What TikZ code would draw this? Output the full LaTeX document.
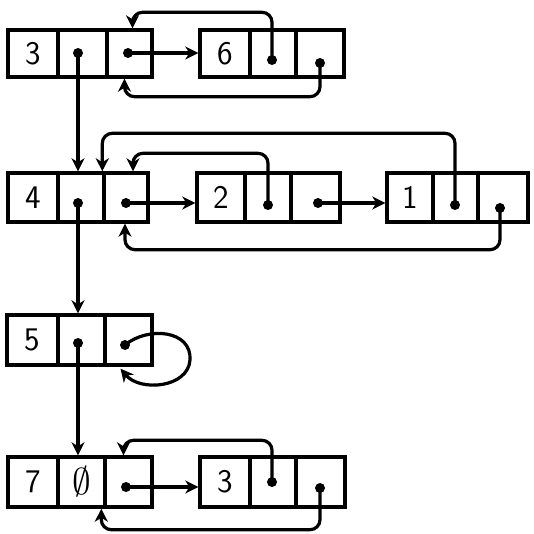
\documentclass[tikz,border=0pt]{standalone}
\usetikzlibrary{arrows.meta,calc}
\begin{document}
\begin{tikzpicture}[x=1pt,y=-1pt,
  cell/.style={draw,line width=3.4pt,inner sep=0pt,
    font=\sffamily\fontsize{33}{36}\selectfont},
  dot/.style={circle,fill,inner sep=0pt,minimum size=10pt},
  ptr/.style={line width=3.2pt,-{Stealth[length=13pt,width=13pt,inset=4pt]}},
  link/.style={ptr,rounded corners=10pt}]
\useasboundingbox (0,0) rectangle (533,534);

% first row: cells 3 | . | .   and   6 | . | .
\node[cell,minimum width=50pt,minimum height=47pt] (a1) at (33,53.5) {3};
\node[cell,minimum width=49pt,minimum height=47pt] (a2) at (82.5,53.5) {};
\node[cell,minimum width=45pt,minimum height=47pt] (a3) at (129.5,53.5) {};
\node[cell,minimum width=50pt,minimum height=47pt] (b1) at (225,53.5) {6};
\node[cell,minimum width=46pt,minimum height=47pt] (b2) at (273,53.5) {};
\node[cell,minimum width=48pt,minimum height=47pt] (b3) at (320,53.5) {};

% second row: 4 | . | .   2 | . | .   1 | . | .
\node[cell,minimum width=50pt,minimum height=49pt] (c1) at (33,197.5) {4};
\node[cell,minimum width=46pt,minimum height=49pt] (c2) at (81,197.5) {};
\node[cell,minimum width=44pt,minimum height=49pt] (c3) at (126,197.5) {};
\node[cell,minimum width=48pt,minimum height=49pt] (d1) at (221,197.5) {2};
\node[cell,minimum width=46pt,minimum height=49pt] (d2) at (268,197.5) {};
\node[cell,minimum width=49pt,minimum height=49pt] (d3) at (315.5,197.5) {};
\node[cell,minimum width=46pt,minimum height=49pt] (e1) at (410,197.5) {1};
\node[cell,minimum width=45pt,minimum height=49pt] (e2) at (455.5,197.5) {};
\node[cell,minimum width=50pt,minimum height=49pt] (e3) at (503,197.5) {};

% third row: 5 | . | .
\node[cell,minimum width=51pt,minimum height=50pt] (f1) at (32.5,340) {5};
\node[cell,minimum width=47pt,minimum height=50pt] (f2) at (81.5,340) {};
\node[cell,minimum width=47pt,minimum height=50pt] (f3) at (128.5,340) {};

% fourth row: 7 | nil | .   3 | . | .
\node[cell,minimum width=50pt,minimum height=50pt] (g1) at (33,482) {7};
\node[cell,minimum width=47pt,minimum height=50pt] (g2) at (81.5,482) {\scalebox{1.5}{$\emptyset$}};
\node[cell,minimum width=47pt,minimum height=50pt] (g3) at (128.5,482) {};
\node[cell,minimum width=50pt,minimum height=50pt] (h1) at (225,482) {3};
\node[cell,minimum width=46pt,minimum height=50pt] (h2) at (273,482) {};
\node[cell,minimum width=49pt,minimum height=50pt] (h3) at (320.5,482) {};

% pointer origins
\node[dot] (pa2) at (78,53) {};
\node[dot] (pa3) at (128,53) {};
\node[dot] (pb2) at (272,60) {};
\node[dot] (pb3) at (320,63) {};
\node[dot] (pc2) at (78,203) {};
\node[dot] (pc3) at (126,203) {};
\node[dot] (pd2) at (268,205) {};
\node[dot] (pd3) at (318,203) {};
\node[dot] (pe2) at (455,205) {};
\node[dot] (pe3) at (500,208) {};
\node[dot] (pf2) at (78,343) {};
\node[dot] (pf3) at (125,345) {};
\node[dot] (pg3) at (126,487) {};
\node[dot] (ph2) at (272,482) {};
\node[dot] (ph3) at (320,488) {};

% pointers of the first row
\draw[ptr] (pa2.center) -- (pa2.center |- c2.north);
\draw[ptr] (pa3.center) -- (pa3.center -| b1.west);
\draw[link] (pb2.center) |- ($(a3.north)+(3,-16)$) -- ($(a3.north)+(3,0)$);
\draw[link] (pb3.center) |- ($(a3.south)+(-5,18)$) -- ($(a3.south)+(-5,0)$);

% pointers of the second row
\draw[ptr] (pc2.center) -- (pc2.center |- f2.north);
\draw[ptr] (pc3.center) -- (pc3.center -| d1.west);
\draw[link] (pd2.center) |- ($(c3.north)+(7,-18)$) -- ($(c3.north)+(7,0)$);
\draw[ptr] (pd3.center) -- (pd3.center -| e1.west);
\draw[link] (pe2.center) |- ($(c3.north west)+(0,-38)$) -- (c3.north west);
\draw[link] (pe3.center) |- ($(c3.south)+(-1,26)$) -- ($(c3.south)+(-1,0)$);

% pointers of the third row
\draw[ptr] (pf2.center) -- (pf2.center |- g2.north);
\draw[ptr] (pf3.center) .. controls (148,326) and (192,330) .. (190,360)
  .. controls (188,388) and (140,392) .. ($(f3.south)+(-8,2)$);

% pointers of the fourth row
\draw[ptr] (pg3.center) -- (pg3.center -| h1.west);
\draw[link] (ph2.center) |- ($(g3.north)+(-5,-15)$) -- ($(g3.north)+(-5,0)$);
\draw[link] (ph3.center) |- ($(g3.south west)+(-2,21)$) -- ($(g3.south west)+(-2,0)$);
\end{tikzpicture}
\end{document}
